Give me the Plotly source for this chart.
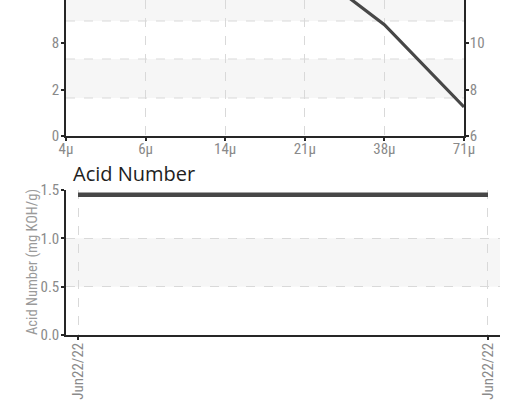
import plotly.graph_objects as go

# ---- data ----
size_labels = ["4μ", "6μ", "14μ", "21μ", "38μ", "71μ"]
iso_codes = [20.0, 18.5, 16.0, 13.4, 10.8, 7.25]          # top chart (only the last part visible)
iso_tick_vals = [6, 8, 10, 12]
count_tick_text = ["0", "2", "8", "30"]                      # left axis labels
code_tick_text = ["6", "8", "10", "12"]                      # right axis labels

acid_dates = ["Jun22/22", "Jun22/22"]
acid_values = [1.45, 1.45]
acid_tick_vals = [0.0, 0.5, 1.0, 1.5]
acid_tick_text = ["0.0", "0.5", "1.0", "1.5"]

W, H = 508, 402
def px_x(p): return p / W
def px_y(p): return 1 - p / H

TICK_FONT = dict(family="Roboto Condensed, DejaVu Sans Condensed, sans-serif",
                 size=15, color="#8a8a8a")
AXIS_COLOR = "#262626"
GRID = "#d9d9d9"
BAND = "#f6f6f6"
LINE = "#474747"

fig = go.Figure()

fig.add_trace(go.Scatter(x=size_labels, y=iso_codes, mode="lines",
                         line=dict(color=LINE, width=3.2), xaxis="x", yaxis="y",
                         showlegend=False, hoverinfo="skip"))
# same series bound to the right-hand ISO-code axis (invisible, just so that axis is drawn)
fig.add_trace(go.Scatter(x=size_labels, y=iso_codes, mode="lines", opacity=0,
                         line=dict(color=LINE, width=0), xaxis="x", yaxis="y3",
                         showlegend=False, hoverinfo="skip"))
fig.add_trace(go.Scatter(x=list(range(len(acid_values))), y=acid_values, mode="lines",
                         line=dict(color=LINE, width=4.5), xaxis="x2", yaxis="y2",
                         showlegend=False, hoverinfo="skip"))

top_range = [6, 6 + 136 / 23.2]

axis_common = dict(showline=True, linecolor=AXIS_COLOR, linewidth=1.5,
                   ticks="outside", ticklen=3, tickcolor=AXIS_COLOR, tickwidth=1.5,
                   zeroline=False, tickfont=TICK_FONT, automargin=False)

fig.update_layout(
    width=W, height=H,
    margin=dict(l=0, r=0, t=0, b=0),
    paper_bgcolor="white", plot_bgcolor="rgba(0,0,0,0)",
    xaxis=dict(domain=[px_x(66), px_x(464)], type="category", range=[0, 5], anchor="y",
               ticklabelstandoff=-5,
               showgrid=True, gridcolor=GRID, griddash="dash", gridwidth=1, **axis_common),
    yaxis=dict(domain=[px_y(136), 1], range=top_range, anchor="x", ticklabelstandoff=-1,
               tickvals=iso_tick_vals, ticktext=count_tick_text, showgrid=False, **axis_common),
    yaxis3=dict(overlaying="y", side="right", anchor="x", range=top_range, ticklabelstandoff=-2,
                tickvals=iso_tick_vals, ticktext=code_tick_text, showgrid=False, **axis_common),
    xaxis2=dict(domain=[px_x(66), px_x(500)], anchor="y2", ticklabelstandoff=-3,
                range=[-0.0293, 1.0293], tickvals=[0, 1], ticktext=acid_dates, tickangle=-90,
                showgrid=True, gridcolor=GRID, griddash="dash", gridwidth=1, **axis_common),
    yaxis2=dict(domain=[px_y(335), px_y(190)], anchor="x2", range=[0, 1.5], ticklabelstandoff=-1,
                tickvals=acid_tick_vals, ticktext=acid_tick_text,
                showgrid=True, gridcolor=GRID, griddash="dash", gridwidth=1, **axis_common),
)

shapes = []
top_lines = [(136 - 98) / 136, (136 - 59) / 136, (136 - 21) / 136]
shapes.append(dict(type="rect", xref="x domain", yref="y domain", x0=0, x1=1,
                   y0=top_lines[0], y1=top_lines[1], fillcolor=BAND, line_width=0, layer="below"))
shapes.append(dict(type="rect", xref="x domain", yref="y domain", x0=0, x1=1,
                   y0=top_lines[2], y1=1, fillcolor=BAND, line_width=0, layer="below"))
for f in top_lines:
    shapes.append(dict(type="line", xref="x domain", yref="y domain", x0=0, x1=1,
                       y0=f, y1=f, line=dict(color=GRID, width=1, dash="dash"), layer="below"))
shapes.append(dict(type="rect", xref="x2 domain", yref="y2", x0=0, x1=1,
                   y0=0.5, y1=1.0, fillcolor=BAND, line_width=0, layer="below"))
fig.update_layout(shapes=shapes)

fig.add_annotation(text="Acid Number", xref="paper", yref="paper",
                   x=px_x(71), y=px_y(173), xanchor="left", yanchor="middle",
                   showarrow=False, font=dict(family="Open Sans, sans-serif", size=20, color="#1e1e1e"))
fig.add_annotation(text="Acid Number (mg KOH/g)", xref="paper", yref="paper",
                   x=px_x(32), y=px_y(262), xanchor="center", yanchor="middle",
                   textangle=-90, showarrow=False,
                   font=dict(family=TICK_FONT["family"], size=14.5, color="#9a9a9a"))

fig.write_html("out.html", config={"displayModeBar": False},
               post_script="document.body.style.margin='0';")
